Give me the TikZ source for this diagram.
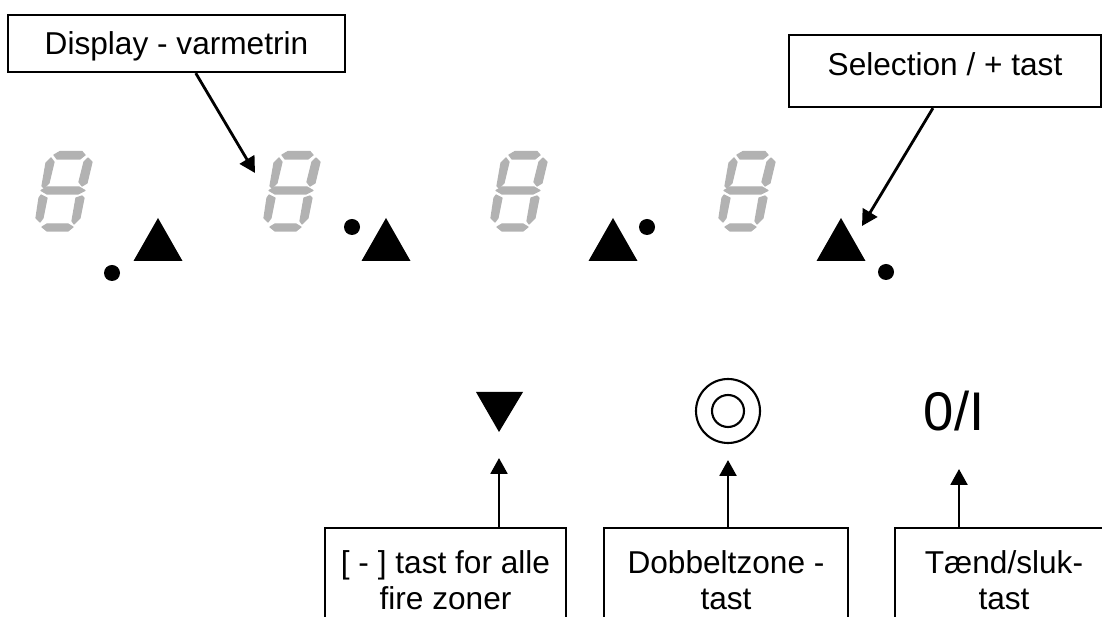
\documentclass[tikz,border=0pt]{standalone}
\usepackage{fontspec}
\setmainfont{Liberation Sans}
\usetikzlibrary{arrows.meta, positioning}
\definecolor{seggray}{HTML}{B2B2B2}
\tikzset{
    labelbox/.style={draw=black, line width=1.3pt, fill=white, inner sep=0pt, align=center,
                     font=\fontsize{18}{20.5}\selectfont},
    pointer/.style={line width=1.6pt, -{Triangle[length=9pt,width=9.5pt]}},
    segment/.style={fill=seggray, draw=seggray, line width=0.7pt, line join=round}
}

\begin{document}
\begin{tikzpicture}[x=0.02cm, y=-0.02cm]
    \useasboundingbox (0,0) rectangle (1102,617);
    \clip (0,0) rectangle (1102,617);

    % Seven-segment digits
    \foreach \dx in {35,263,490,718} {
        \begin{scope}[shift={(\dx,150)}]
            \draw[segment] (19,5) -- (25,1.5) -- (47,1.5) -- (50,5) -- (45,9) -- (22,9) -- cycle;
            \draw[segment] (16,8) -- (19,12) -- (14,33) -- (9,38) -- (7,36) -- (11,13) -- cycle;
            \draw[segment] (53,8) -- (57,12) -- (52,33) -- (47,36) -- (44,32) -- (49,12) -- cycle;
            \draw[segment] (6,40.5) -- (12,37) -- (44,37) -- (50,40.5) -- (43,44) -- (12,44) -- cycle;
            \draw[segment] (6,45) -- (12,48) -- (8,68) -- (5,72) -- (1,68) -- (4,48) -- cycle;
            \draw[segment] (47,46) -- (49,48) -- (45,68) -- (39,74) -- (37,71) -- (41,48) -- cycle;
            \draw[segment] (7,77) -- (12,74) -- (33,74) -- (38,77) -- (33,81) -- (12,81) -- cycle;
        \end{scope}
    }

    % Selection triangles
    \foreach \tx in {158,386,613,841} {
        \fill[black] (\tx,218) -- (\tx+24.5,261) -- (\tx-24.5,261) -- cycle;
    }

    % Zone dots
    \foreach \px/\py in {112/273, 352/227, 647/227, 886/272} {
        \fill[black] (\px,\py) circle[radius=8];
    }

    % Lower keys
    \fill[black] (476,392) -- (523,392) -- (499,432) -- cycle;
    \draw[line width=1.2pt] (728,411) circle[radius=32];
    \draw[line width=1.2pt] (728,411) circle[radius=16];
    \node[font=\fontsize{31}{31}\selectfont, inner sep=0pt] (onoff) at (954,411) {0/I};

    % Label boxes
    \node[labelbox, minimum width=6.74cm, minimum height=1.14cm, text height=13pt, text depth=0pt] (display) at (176.5,43.5) {Display - varmetrin};
    \node[labelbox, minimum width=6.24cm, minimum height=1.44cm, text height=13pt, text depth=8.4pt] (selection) at (945,71) {Selection / + tast};
    \node[labelbox, minimum width=4.82cm, minimum height=2.08cm] (minus) at (445.5,580) {[ - ] tast for alle\\fire zoner};
    \node[labelbox, minimum width=4.88cm, minimum height=2.08cm] (dobbelt) at (726,580) {Dobbeltzone -\\tast};
    \node[labelbox, minimum width=4.36cm, minimum height=2.08cm] (taend) at (1004,580) {Tænd/sluk-\\tast};

    % Arrow tips
    \coordinate (displaytip) at (255,173);
    \coordinate (selectiontip) at (862,226);
    \coordinate (minustip) at (499,458);
    \coordinate (dobbelttip) at (728,460);
    \coordinate (taendtip) at (959,469);

    % Pointers
    \draw[pointer] (display.-57) -- (displaytip);
    \draw[pointer] (selection.-108.4) -- (selectiontip);
    \draw[pointer] (minus.north -| minustip) -- (minustip);
    \draw[pointer] (dobbelt.north -| dobbelttip) -- (dobbelttip);
    \draw[pointer] (taend.north -| taendtip) -- (taendtip);
\end{tikzpicture}
\end{document}
